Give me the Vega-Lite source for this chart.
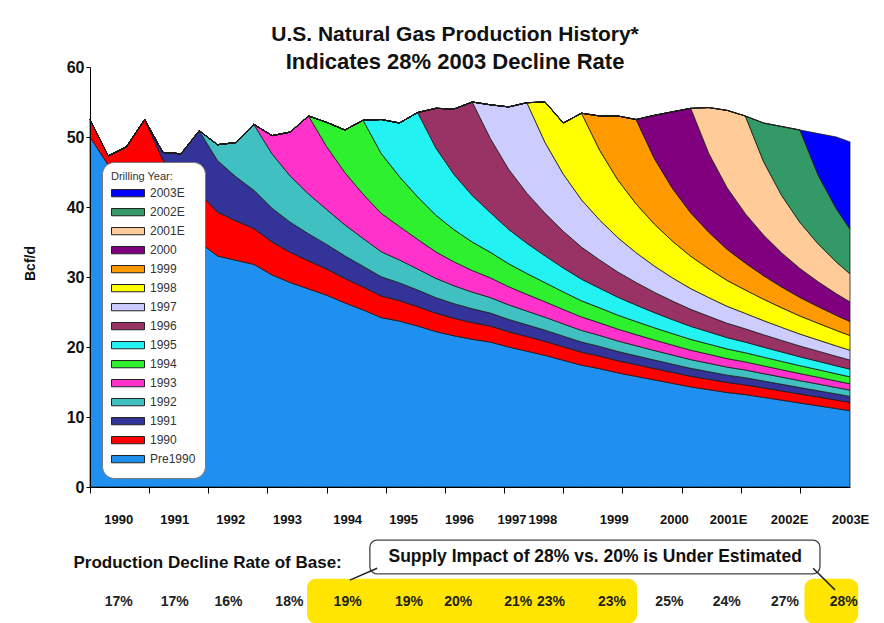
{
  "$schema": "https://vega.github.io/schema/vega-lite/v6.json",
  "width": 760,
  "height": 420,
  "autosize": {"type": "none"},
  "padding": {"left": 90, "top": 67, "right": 34, "bottom": 136},
  "background": "#ffffff",
  "config": {"view": {"stroke": null}, "axis": {"zindex": 2}},
  "title": {
    "text": "U.S. Natural Gas Production History*",
    "subtitle": "Indicates 28% 2003 Decline Rate",
    "font": "Liberation Sans", "fontSize": 21, "fontWeight": "bold", "color": "#111111",
    "subtitleFont": "Liberation Sans", "subtitleFontSize": 22, "subtitleFontWeight": "bold", "subtitleColor": "#111111",
    "subtitlePadding": 7, "anchor": "middle", "dx": -15, "offset": -14
  },
  "datasets": {
    "prod": [
      {"m":0,"s":"Pre1990","v":50.0},{"m":4,"s":"Pre1990","v":46.0},{"m":8,"s":"Pre1990","v":43.8},{"m":12,"s":"Pre1990","v":41.6},{"m":16,"s":"Pre1990","v":37.5},{"m":20,"s":"Pre1990","v":36.3},{"m":24,"s":"Pre1990","v":35.0},{"m":28,"s":"Pre1990","v":33.0},{"m":32,"s":"Pre1990","v":32.4},{"m":36,"s":"Pre1990","v":31.8},{"m":40,"s":"Pre1990","v":30.3},{"m":44,"s":"Pre1990","v":29.2},{"m":48,"s":"Pre1990","v":28.3},{"m":52,"s":"Pre1990","v":27.4},{"m":56,"s":"Pre1990","v":26.3},{"m":60,"s":"Pre1990","v":25.3},{"m":64,"s":"Pre1990","v":24.2},{"m":68,"s":"Pre1990","v":23.7},{"m":72,"s":"Pre1990","v":23.0},{"m":76,"s":"Pre1990","v":22.2},{"m":80,"s":"Pre1990","v":21.6},{"m":84,"s":"Pre1990","v":21.1},{"m":88,"s":"Pre1990","v":20.7},{"m":92,"s":"Pre1990","v":20.0},{"m":96,"s":"Pre1990","v":19.4},{"m":100,"s":"Pre1990","v":18.8},{"m":104,"s":"Pre1990","v":18.1},{"m":108,"s":"Pre1990","v":17.4},{"m":112,"s":"Pre1990","v":16.9},{"m":116,"s":"Pre1990","v":16.3},{"m":120,"s":"Pre1990","v":15.8},{"m":124,"s":"Pre1990","v":15.3},{"m":128,"s":"Pre1990","v":14.8},{"m":132,"s":"Pre1990","v":14.3},{"m":136,"s":"Pre1990","v":13.9},{"m":140,"s":"Pre1990","v":13.5},{"m":144,"s":"Pre1990","v":13.2},{"m":148,"s":"Pre1990","v":12.8},{"m":152,"s":"Pre1990","v":12.4},{"m":156,"s":"Pre1990","v":12.0},{"m":160,"s":"Pre1990","v":11.6},{"m":164,"s":"Pre1990","v":11.2},{"m":167,"s":"Pre1990","v":10.9},
      {"m":0,"s":"1990","v":2.5},{"m":4,"s":"1990","v":1.3},{"m":8,"s":"1990","v":4.8},{"m":12,"s":"1990","v":10.9},{"m":16,"s":"1990","v":9.23},{"m":20,"s":"1990","v":7.99},{"m":24,"s":"1990","v":7.03},{"m":28,"s":"1990","v":6.26},{"m":32,"s":"1990","v":5.64},{"m":36,"s":"1990","v":5.13},{"m":40,"s":"1990","v":4.70},{"m":44,"s":"1990","v":4.33},{"m":48,"s":"1990","v":4.01},{"m":52,"s":"1990","v":3.74},{"m":56,"s":"1990","v":3.50},{"m":60,"s":"1990","v":3.28},{"m":64,"s":"1990","v":3.09},{"m":68,"s":"1990","v":2.92},{"m":72,"s":"1990","v":2.77},{"m":76,"s":"1990","v":2.63},{"m":80,"s":"1990","v":2.50},{"m":84,"s":"1990","v":2.39},{"m":88,"s":"1990","v":2.28},{"m":92,"s":"1990","v":2.18},{"m":96,"s":"1990","v":2.10},{"m":100,"s":"1990","v":2.01},{"m":104,"s":"1990","v":1.93},{"m":108,"s":"1990","v":1.86},{"m":112,"s":"1990","v":1.80},{"m":116,"s":"1990","v":1.73},{"m":120,"s":"1990","v":1.68},{"m":124,"s":"1990","v":1.62},{"m":128,"s":"1990","v":1.57},{"m":132,"s":"1990","v":1.52},{"m":136,"s":"1990","v":1.48},{"m":140,"s":"1990","v":1.43},{"m":144,"s":"1990","v":1.39},{"m":148,"s":"1990","v":1.35},{"m":152,"s":"1990","v":1.32},{"m":156,"s":"1990","v":1.28},{"m":160,"s":"1990","v":1.25},{"m":164,"s":"1990","v":1.22},{"m":167,"s":"1990","v":1.19},
      {"m":12,"s":"1991","v":0},{"m":16,"s":"1991","v":1.07},{"m":20,"s":"1991","v":3.31},{"m":24,"s":"1991","v":8.87},{"m":28,"s":"1991","v":7.39},{"m":32,"s":"1991","v":6.30},{"m":36,"s":"1991","v":5.47},{"m":40,"s":"1991","v":4.82},{"m":44,"s":"1991","v":4.30},{"m":48,"s":"1991","v":3.87},{"m":52,"s":"1991","v":3.52},{"m":56,"s":"1991","v":3.22},{"m":60,"s":"1991","v":2.96},{"m":64,"s":"1991","v":2.74},{"m":68,"s":"1991","v":2.54},{"m":72,"s":"1991","v":2.37},{"m":76,"s":"1991","v":2.22},{"m":80,"s":"1991","v":2.09},{"m":84,"s":"1991","v":1.97},{"m":88,"s":"1991","v":1.86},{"m":92,"s":"1991","v":1.76},{"m":96,"s":"1991","v":1.67},{"m":100,"s":"1991","v":1.59},{"m":104,"s":"1991","v":1.52},{"m":108,"s":"1991","v":1.45},{"m":112,"s":"1991","v":1.38},{"m":116,"s":"1991","v":1.33},{"m":120,"s":"1991","v":1.27},{"m":124,"s":"1991","v":1.22},{"m":128,"s":"1991","v":1.18},{"m":132,"s":"1991","v":1.13},{"m":136,"s":"1991","v":1.09},{"m":140,"s":"1991","v":1.05},{"m":144,"s":"1991","v":1.02},{"m":148,"s":"1991","v":0.99},{"m":152,"s":"1991","v":0.95},{"m":156,"s":"1991","v":0.92},{"m":160,"s":"1991","v":0.90},{"m":164,"s":"1991","v":0.87},{"m":167,"s":"1991","v":0.85},
      {"m":24,"s":"1992","v":0},{"m":28,"s":"1992","v":2.25},{"m":32,"s":"1992","v":4.86},{"m":36,"s":"1992","v":9.4},{"m":40,"s":"1992","v":7.77},{"m":44,"s":"1992","v":6.59},{"m":48,"s":"1992","v":5.69},{"m":52,"s":"1992","v":4.99},{"m":56,"s":"1992","v":4.43},{"m":60,"s":"1992","v":3.97},{"m":64,"s":"1992","v":3.59},{"m":68,"s":"1992","v":3.27},{"m":72,"s":"1992","v":3.00},{"m":76,"s":"1992","v":2.76},{"m":80,"s":"1992","v":2.56},{"m":84,"s":"1992","v":2.38},{"m":88,"s":"1992","v":2.22},{"m":92,"s":"1992","v":2.08},{"m":96,"s":"1992","v":1.96},{"m":100,"s":"1992","v":1.85},{"m":104,"s":"1992","v":1.75},{"m":108,"s":"1992","v":1.66},{"m":112,"s":"1992","v":1.57},{"m":116,"s":"1992","v":1.50},{"m":120,"s":"1992","v":1.43},{"m":124,"s":"1992","v":1.36},{"m":128,"s":"1992","v":1.30},{"m":132,"s":"1992","v":1.25},{"m":136,"s":"1992","v":1.20},{"m":140,"s":"1992","v":1.15},{"m":144,"s":"1992","v":1.10},{"m":148,"s":"1992","v":1.06},{"m":152,"s":"1992","v":1.03},{"m":156,"s":"1992","v":0.99},{"m":160,"s":"1992","v":0.96},{"m":164,"s":"1992","v":0.92},{"m":167,"s":"1992","v":0.90},
      {"m":36,"s":"1993","v":0},{"m":40,"s":"1993","v":2.61},{"m":44,"s":"1993","v":6.28},{"m":48,"s":"1993","v":11.13},{"m":52,"s":"1993","v":8.99},{"m":56,"s":"1993","v":7.47},{"m":60,"s":"1993","v":6.34},{"m":64,"s":"1993","v":5.47},{"m":68,"s":"1993","v":4.79},{"m":72,"s":"1993","v":4.24},{"m":76,"s":"1993","v":3.78},{"m":80,"s":"1993","v":3.41},{"m":84,"s":"1993","v":3.09},{"m":88,"s":"1993","v":2.82},{"m":92,"s":"1993","v":2.59},{"m":96,"s":"1993","v":2.39},{"m":100,"s":"1993","v":2.21},{"m":104,"s":"1993","v":2.06},{"m":108,"s":"1993","v":1.92},{"m":112,"s":"1993","v":1.80},{"m":116,"s":"1993","v":1.69},{"m":120,"s":"1993","v":1.59},{"m":124,"s":"1993","v":1.50},{"m":128,"s":"1993","v":1.42},{"m":132,"s":"1993","v":1.34},{"m":136,"s":"1993","v":1.28},{"m":140,"s":"1993","v":1.21},{"m":144,"s":"1993","v":1.16},{"m":148,"s":"1993","v":1.10},{"m":152,"s":"1993","v":1.05},{"m":156,"s":"1993","v":1.01},{"m":160,"s":"1993","v":0.97},{"m":164,"s":"1993","v":0.93},{"m":167,"s":"1993","v":0.90},
      {"m":48,"s":"1994","v":0},{"m":52,"s":"1994","v":3.46},{"m":56,"s":"1994","v":6.08},{"m":60,"s":"1994","v":10.55},{"m":64,"s":"1994","v":8.55},{"m":68,"s":"1994","v":7.12},{"m":72,"s":"1994","v":6.06},{"m":76,"s":"1994","v":5.24},{"m":80,"s":"1994","v":4.59},{"m":84,"s":"1994","v":4.07},{"m":88,"s":"1994","v":3.64},{"m":92,"s":"1994","v":3.28},{"m":96,"s":"1994","v":2.98},{"m":100,"s":"1994","v":2.73},{"m":104,"s":"1994","v":2.51},{"m":108,"s":"1994","v":2.31},{"m":112,"s":"1994","v":2.14},{"m":116,"s":"1994","v":2.00},{"m":120,"s":"1994","v":1.87},{"m":124,"s":"1994","v":1.75},{"m":128,"s":"1994","v":1.64},{"m":132,"s":"1994","v":1.55},{"m":136,"s":"1994","v":1.46},{"m":140,"s":"1994","v":1.38},{"m":144,"s":"1994","v":1.31},{"m":148,"s":"1994","v":1.25},{"m":152,"s":"1994","v":1.19},{"m":156,"s":"1994","v":1.13},{"m":160,"s":"1994","v":1.08},{"m":164,"s":"1994","v":1.03},{"m":167,"s":"1994","v":1.00},
      {"m":60,"s":"1995","v":0},{"m":64,"s":"1995","v":4.86},{"m":68,"s":"1995","v":7.66},{"m":72,"s":"1995","v":12.06},{"m":76,"s":"1995","v":9.61},{"m":80,"s":"1995","v":7.89},{"m":84,"s":"1995","v":6.63},{"m":88,"s":"1995","v":5.67},{"m":92,"s":"1995","v":4.91},{"m":96,"s":"1995","v":4.32},{"m":100,"s":"1995","v":3.83},{"m":104,"s":"1995","v":3.42},{"m":108,"s":"1995","v":3.09},{"m":112,"s":"1995","v":2.80},{"m":116,"s":"1995","v":2.56},{"m":120,"s":"1995","v":2.35},{"m":124,"s":"1995","v":2.16},{"m":128,"s":"1995","v":2.00},{"m":132,"s":"1995","v":1.86},{"m":136,"s":"1995","v":1.74},{"m":140,"s":"1995","v":1.62},{"m":144,"s":"1995","v":1.52},{"m":148,"s":"1995","v":1.43},{"m":152,"s":"1995","v":1.35},{"m":156,"s":"1995","v":1.27},{"m":160,"s":"1995","v":1.20},{"m":164,"s":"1995","v":1.14},{"m":167,"s":"1995","v":1.10},
      {"m":72,"s":"1996","v":0},{"m":76,"s":"1996","v":5.66},{"m":80,"s":"1996","v":9.36},{"m":84,"s":"1996","v":13.37},{"m":88,"s":"1996","v":10.56},{"m":92,"s":"1996","v":8.59},{"m":96,"s":"1996","v":7.16},{"m":100,"s":"1996","v":6.08},{"m":104,"s":"1996","v":5.24},{"m":108,"s":"1996","v":4.58},{"m":112,"s":"1996","v":4.04},{"m":116,"s":"1996","v":3.60},{"m":120,"s":"1996","v":3.23},{"m":124,"s":"1996","v":2.92},{"m":128,"s":"1996","v":2.65},{"m":132,"s":"1996","v":2.43},{"m":136,"s":"1996","v":2.23},{"m":140,"s":"1996","v":2.05},{"m":144,"s":"1996","v":1.90},{"m":148,"s":"1996","v":1.77},{"m":152,"s":"1996","v":1.65},{"m":156,"s":"1996","v":1.54},{"m":160,"s":"1996","v":1.45},{"m":164,"s":"1996","v":1.36},{"m":167,"s":"1996","v":1.30},
      {"m":84,"s":"1997","v":0},{"m":88,"s":"1997","v":4.85},{"m":92,"s":"1997","v":8.91},{"m":96,"s":"1997","v":12.92},{"m":100,"s":"1997","v":10.11},{"m":104,"s":"1997","v":8.17},{"m":108,"s":"1997","v":6.76},{"m":112,"s":"1997","v":5.71},{"m":116,"s":"1997","v":4.90},{"m":120,"s":"1997","v":4.25},{"m":124,"s":"1997","v":3.74},{"m":128,"s":"1997","v":3.31},{"m":132,"s":"1997","v":2.96},{"m":136,"s":"1997","v":2.67},{"m":140,"s":"1997","v":2.42},{"m":144,"s":"1997","v":2.20},{"m":148,"s":"1997","v":2.02},{"m":152,"s":"1997","v":1.86},{"m":156,"s":"1997","v":1.71},{"m":160,"s":"1997","v":1.59},{"m":164,"s":"1997","v":1.48},{"m":167,"s":"1997","v":1.40},
      {"m":96,"s":"1998","v":0},{"m":100,"s":"1998","v":5.79},{"m":104,"s":"1998","v":7.30},{"m":108,"s":"1998","v":12.37},{"m":112,"s":"1998","v":9.96},{"m":116,"s":"1998","v":8.24},{"m":120,"s":"1998","v":6.97},{"m":124,"s":"1998","v":6.00},{"m":128,"s":"1998","v":5.24},{"m":132,"s":"1998","v":4.62},{"m":136,"s":"1998","v":4.12},{"m":140,"s":"1998","v":3.70},{"m":144,"s":"1998","v":3.35},{"m":148,"s":"1998","v":3.06},{"m":152,"s":"1998","v":2.80},{"m":156,"s":"1998","v":2.58},{"m":160,"s":"1998","v":2.39},{"m":164,"s":"1998","v":2.22},{"m":167,"s":"1998","v":2.10},
      {"m":108,"s":"1999","v":0},{"m":112,"s":"1999","v":4.90},{"m":116,"s":"1999","v":9.15},{"m":120,"s":"1999","v":12.06},{"m":124,"s":"1999","v":9.37},{"m":128,"s":"1999","v":7.53},{"m":132,"s":"1999","v":6.20},{"m":136,"s":"1999","v":5.20},{"m":140,"s":"1999","v":4.44},{"m":144,"s":"1999","v":3.84},{"m":148,"s":"1999","v":3.36},{"m":152,"s":"1999","v":2.97},{"m":156,"s":"1999","v":2.65},{"m":160,"s":"1999","v":2.38},{"m":164,"s":"1999","v":2.15},{"m":167,"s":"1999","v":2.00},
      {"m":120,"s":"2000","v":0},{"m":124,"s":"2000","v":6.16},{"m":128,"s":"2000","v":10.96},{"m":132,"s":"2000","v":14.94},{"m":136,"s":"2000","v":11.25},{"m":140,"s":"2000","v":8.79},{"m":144,"s":"2000","v":7.06},{"m":148,"s":"2000","v":5.80},{"m":152,"s":"2000","v":4.86},{"m":156,"s":"2000","v":4.13},{"m":160,"s":"2000","v":3.55},{"m":164,"s":"2000","v":3.09},{"m":167,"s":"2000","v":2.80},
      {"m":132,"s":"2001E","v":0},{"m":136,"s":"2001E","v":6.58},{"m":140,"s":"2001E","v":11.06},{"m":144,"s":"2001E","v":13.95},{"m":148,"s":"2001E","v":10.50},{"m":152,"s":"2001E","v":8.20},{"m":156,"s":"2001E","v":6.58},{"m":160,"s":"2001E","v":5.41},{"m":164,"s":"2001E","v":4.53},{"m":167,"s":"2001E","v":4.00},
      {"m":144,"s":"2002E","v":0},{"m":148,"s":"2002E","v":5.51},{"m":152,"s":"2002E","v":9.87},{"m":156,"s":"2002E","v":13.21},{"m":160,"s":"2002E","v":9.83},{"m":164,"s":"2002E","v":7.61},{"m":167,"s":"2002E","v":6.40},
      {"m":156,"s":"2003E","v":0},{"m":160,"s":"2003E","v":5.94},{"m":164,"s":"2003E","v":10.25},{"m":167,"s":"2003E","v":12.46}
    ]
  },
  "layer": [
    {
      "data": {"name": "prod"},
      "transform": [
        {"impute": "v", "key": "m", "groupby": ["s"], "value": 0},
        {"calculate": "indexof(['Pre1990','1990','1991','1992','1993','1994','1995','1996','1997','1998','1999','2000','2001E','2002E','2003E'], datum.s)", "as": "k"}
      ],
      "mark": {"type": "area", "opacity": 1, "stroke": "#1a1a1a", "strokeWidth": 0.8, "strokeJoin": "round"},
      "encoding": {
        "x": {
          "field": "m", "type": "quantitative",
          "scale": {"domain": [0, 167], "nice": false, "zero": false},
          "axis": {"orient": "bottom", "zindex": 2, "values": [0,13,26,39,52,65,78,91,104,117,130,143,156], "labels": false, "ticks": true, "tickSize": 6, "tickColor": "#000000", "tickWidth": 1, "domainColor": "#000000", "domainWidth": 1, "grid": false, "title": null}
        },
        "y": {
          "field": "v", "type": "quantitative", "stack": "zero",
          "scale": {"domain": [0, 60], "nice": false},
          "axis": {"orient": "left", "zindex": 2, "values": [0,10,20,30,40,50,60], "grid": false, "labelFont": "Liberation Sans", "labelFontSize": 16, "labelFontWeight": "bold", "labelColor": "#111111", "labelPadding": 2, "tickSize": 4, "tickColor": "#000000", "domainColor": "#000000", "title": "Bcf/d", "titleFont": "Liberation Sans", "titleFontSize": 14, "titleFontWeight": "bold", "titleColor": "#111111", "titleX": -60, "titleY": 196, "titleBaseline": "middle", "titleAlign": "center"}
        },
        "color": {
          "field": "s", "type": "nominal",
          "scale": {
            "domain": ["2003E","2002E","2001E","2000","1999","1998","1997","1996","1995","1994","1993","1992","1991","1990","Pre1990"],
            "range": ["#0000FF","#339966","#FFCC99","#800080","#FF9900","#FFFF00","#CCCCFF","#993366","#22F2F2","#2EF02E","#FF33CC","#40C0C0","#333399","#FF0000","#1F90F0"]
          },
          "legend": {
            "orient": "none", "legendX": 12, "legendY": 95, "zindex": 3,
            "title": "Drilling Year:", "titleFont": "Liberation Sans", "titleFontSize": 11, "titleFontWeight": "normal", "titleColor": "#333333", "titlePadding": 2,
            "labelFont": "Liberation Sans", "labelFontSize": 12, "labelColor": "#333333", "labelOffset": 5,
            "symbolType": "M-1,-0.22H1V0.22H-1Z", "symbolSize": 1089, "symbolStrokeColor": "#222222", "symbolStrokeWidth": 1, "symbolOpacity": 1,
            "fillColor": "#ffffff", "strokeColor": "#777777", "cornerRadius": 12, "padding": 9, "rowPadding": 0, "clipHeight": 18.3
          }
        },
        "order": {"field": "k", "type": "quantitative"}
      }
    },
    {
      "data": {"values": [{}]},
      "mark": {"type": "rect", "color": "#FFE500", "cornerRadius": 9},
      "encoding": {
        "x": {
          "datum": 47.7, "type": "quantitative", "scale": {"domain": [0, 167], "nice": false, "zero": false},
          "axis": {"orient": "bottom", "zindex": 2, "values": [6.2,18.5,30.8,43.3,56.5,68.8,81.1,92.6,99.4,115.1,128.3,140.2,153.6,167], "labelExpr": "['1990','1991','1992','1993','1994','1995','1996','1997','1998','1999','2000','2001E','2002E','2003E'][indexof([6.2,18.5,30.8,43.3,56.5,68.8,81.1,92.6,99.4,115.1,128.3,140.2,153.6,167], datum.value)]", "ticks": false, "tickSize": 0, "domain": false, "grid": false, "labelPadding": 32, "labelBaseline": "middle", "labelFont": "Liberation Sans", "labelFontSize": 13, "labelFontWeight": "bold", "labelColor": "#111111", "labelOverlap": false, "labelFlush": false, "labelBound": false, "title": null}
        },
        "x2": {"datum": 120.2},
        "y": {"datum": -13.1, "type": "quantitative", "scale": {"domain": [0, 60], "nice": false}, "axis": null},
        "y2": {"datum": -19.5}
      }
    },
    {
      "data": {"values": [{}]},
      "mark": {"type": "rect", "color": "#FFE500", "cornerRadius": 9},
      "encoding": {
        "x": {
          "datum": 157, "type": "quantitative", "scale": {"domain": [0, 167], "nice": false, "zero": false},
          "axis": {"orient": "bottom", "zindex": 2, "values": [6.2,18.5,30.3,43.7,56.5,70,80.8,94,101.2,114.6,127.2,139.8,152.6,165.5], "labelExpr": "['17%','17%','16%','18%','19%','19%','20%','21%','23%','23%','25%','24%','27%','28%'][indexof([6.2,18.5,30.3,43.7,56.5,70,80.8,94,101.2,114.6,127.2,139.8,152.6,165.5], datum.value)]", "ticks": false, "tickSize": 0, "domain": false, "grid": false, "labelPadding": 114, "labelBaseline": "middle", "labelFont": "Liberation Sans", "labelFontSize": 14, "labelFontWeight": "bold", "labelColor": "#222222", "labelOverlap": false, "labelFlush": false, "labelBound": false, "title": "Production Decline Rate of Base:", "titleX": -17, "titleY": 75, "titleAlign": "left", "titleBaseline": "middle", "titleFont": "Liberation Sans", "titleFontSize": 17, "titleFontWeight": "bold", "titleColor": "#111111"}
        },
        "x2": {"datum": 168.8},
        "y": {"datum": -13.1, "type": "quantitative", "scale": {"domain": [0, 60], "nice": false}, "axis": null},
        "y2": {"datum": -19.5}
      }
    },
    {
      "data": {"values": [{}]},
      "mark": {"type": "rect", "fill": "#ffffff", "stroke": "#444444", "strokeWidth": 1.3, "cornerRadius": 7},
      "encoding": {
        "x": {"datum": 61.5, "type": "quantitative", "scale": {"domain": [0, 167], "nice": false, "zero": false}, "axis": null},
        "x2": {"datum": 160.4},
        "y": {"datum": -7.6, "type": "quantitative", "scale": {"domain": [0, 60], "nice": false}, "axis": null},
        "y2": {"datum": -12.4}
      }
    },
    {
      "data": {"values": [{}]},
      "mark": {"type": "text", "text": "Supply Impact of 28% vs. 20% is Under Estimated", "font": "Liberation Sans", "fontSize": 17.5, "fontWeight": "bold", "color": "#111111", "align": "center", "baseline": "middle"},
      "encoding": {
        "x": {"datum": 111, "type": "quantitative", "scale": {"domain": [0, 167], "nice": false, "zero": false}, "axis": null},
        "y": {"datum": -10, "type": "quantitative", "scale": {"domain": [0, 60], "nice": false}, "axis": null}
      }
    },
    {
      "data": {"values": [{}]},
      "mark": {"type": "rule", "color": "#222222", "strokeWidth": 1.5},
      "encoding": {
        "x": {"datum": 63.1, "type": "quantitative", "scale": {"domain": [0, 167], "nice": false, "zero": false}, "axis": null},
        "x2": {"datum": 57.1},
        "y": {"datum": -11.6, "type": "quantitative", "scale": {"domain": [0, 60], "nice": false}, "axis": null},
        "y2": {"datum": -13.3}
      }
    },
    {
      "data": {"values": [{}]},
      "mark": {"type": "rule", "color": "#222222", "strokeWidth": 1.5},
      "encoding": {
        "x": {"datum": 158.9, "type": "quantitative", "scale": {"domain": [0, 167], "nice": false, "zero": false}, "axis": null},
        "x2": {"datum": 163.7},
        "y": {"datum": -11.6, "type": "quantitative", "scale": {"domain": [0, 60], "nice": false}, "axis": null},
        "y2": {"datum": -14.7}
      }
    }
  ],
  "resolve": {"axis": {"x": "independent", "y": "independent"}}
}
